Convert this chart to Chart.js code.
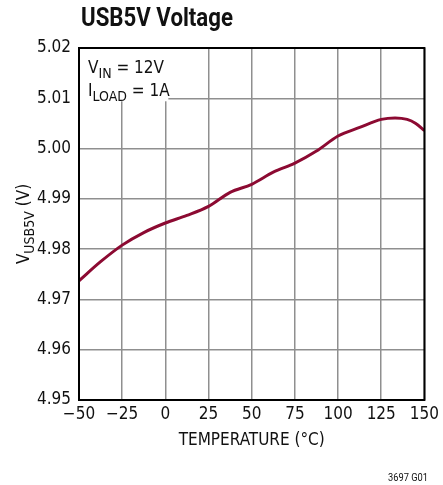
<!DOCTYPE html>
<html>
<head>
<meta charset="utf-8">
<script src="https://cdn.jsdelivr.net/npm/chart.js@4/dist/chart.umd.min.js"></script>
<style>
  html, body { margin: 0; padding: 0; background: #fff; }
  #wrap { position: relative; width: 443px; height: 485px; }
  #title { position: absolute; left: 81px; top: 3px; font: bold 25px Roboto, sans-serif; color: #111; transform-origin: 0 0; white-space: nowrap; }
  #code { position: absolute; left: 388px; top: 471px; font: 11px Roboto, sans-serif; color: #111; transform-origin: 0 0; white-space: nowrap; }
</style>
</head>
<body>
<div id="wrap">
  <canvas id="chart" width="443" height="485"></canvas>
  <div id="title">USB5V Voltage</div>
  <div id="code">3697 G01</div>
</div>
<script>
// USB5V output voltage vs temperature
const temps = [-50, -37.5, -25, -12.5, 0, 12.5, 25, 37.5, 50, 62.5, 75, 87.5, 100, 112.5, 125, 133, 140, 145, 150];
const volts = [4.9737, 4.9775, 4.9808, 4.9833, 4.9852, 4.9867, 4.9885, 4.9913, 4.9929, 4.9953, 4.9971, 4.9995, 5.0025, 5.0042, 5.0058, 5.0061, 5.0058, 5.0050, 5.0036];
const xTicks = [-50, -25, 0, 25, 50, 75, 100, 125, 150];
const yTicks = [4.95, 4.96, 4.97, 4.98, 4.99, 5.00, 5.01, 5.02];

const FONT = '"Liberation Sans Narrow", "DejaVu Sans Condensed", sans-serif';
const lineColor = '#8c0a32';

// squeeze the html labels to the reference widths (condensed face)
function squeeze(id, w) {
    const el = document.getElementById(id);
    el.style.transform = 'scaleX(' + (w / el.getBoundingClientRect().width) + ')';
}
squeeze('title', 152);
squeeze('code', 40);

// draw text with a subscript part
function subText(ctx, x, y, main, sub, rest, size) {
    ctx.font = size + 'px ' + FONT;
    ctx.fillText(main, x, y);
    x += ctx.measureText(main).width;
    ctx.font = Math.round(size * 0.8) + 'px ' + FONT;
    ctx.fillText(sub, x, y + size * 0.28);
    x += ctx.measureText(sub).width;
    ctx.font = size + 'px ' + FONT;
    ctx.fillText(rest, x, y);
}

const overlay = {
    id: 'overlay',
    afterDatasetsDraw(chart) {
        const ctx = chart.ctx;
        const a = chart.chartArea;
        const xs = chart.scales.x, ys = chart.scales.y;
        ctx.save();
        // condition box
        ctx.fillStyle = '#fff';
        ctx.fillRect(a.left + 1, a.top + 1, xs.getPixelForValue(0) + 2 - a.left, ys.getPixelForValue(5.01) + 2 - a.top);
        ctx.fillStyle = '#111';
        ctx.textBaseline = 'alphabetic';
        subText(ctx, a.left + 9, a.top + 25, 'V', 'IN', ' = 12V', 17);
        subText(ctx, a.left + 9, a.top + 48, 'I', 'LOAD', ' = 1A', 17);
        // frame
        ctx.strokeStyle = '#000';
        ctx.lineWidth = 2;
        ctx.strokeRect(a.left, a.top, a.right - a.left, a.bottom - a.top);
        // y axis title
        ctx.translate(23, (a.top + a.bottom) / 2);
        ctx.rotate(-Math.PI / 2);
        ctx.font = '17px ' + FONT;
        let w = ctx.measureText('V').width + ctx.measureText(' (V)').width;
        ctx.font = '14px ' + FONT;
        w += ctx.measureText('USB5V').width;
        subText(ctx, -w / 2, 6, 'V', 'USB5V', ' (V)', 17);
        ctx.restore();
    }
};

new Chart(document.getElementById('chart'), {
    type: 'line',
    data: {
        datasets: [{
            data: temps.map((t, i) => ({ x: t, y: volts[i] })),
            borderColor: lineColor,
            borderWidth: 3,
            pointRadius: 0,
            tension: 0.4,
            cubicInterpolationMode: 'monotone',
            fill: false
        }]
    },
    options: {
        responsive: false,
        animation: false,
        layout: { padding: { left: 0, right: 13, top: 48, bottom: 30 } },
        plugins: {
            legend: { display: false },
            tooltip: { enabled: false }
        },
        scales: {
            x: {
                type: 'linear',
                min: -50,
                max: 150,
                afterBuildTicks: s => { s.ticks = xTicks.map(v => ({ value: v })); },
                afterFit: s => { s.height = 55; },
                grid: { color: '#8f8f8f', lineWidth: 1.5, drawTicks: false },
                border: { display: false },
                ticks: {
                    color: '#111',
                    padding: 4,
                    maxRotation: 0,
                    font: { family: FONT, size: 17 },
                    callback: v => v < 0 ? '\u2212' + Math.abs(v) : String(v)
                },
                title: {
                    display: true,
                    text: 'TEMPERATURE (°C)',
                    color: '#111',
                    padding: { top: 3 },
                    font: { family: FONT, size: 17 }
                }
            },
            y: {
                type: 'linear',
                min: 4.95,
                max: 5.02,
                afterBuildTicks: s => { s.ticks = yTicks.map(v => ({ value: v })); },
                afterFit: s => { s.width = 79; },
                grid: { color: '#8f8f8f', lineWidth: 1.5, drawTicks: false },
                border: { display: false },
                ticks: {
                    color: '#111',
                    padding: 8,
                    font: { family: FONT, size: 17 },
                    callback: v => Number(v).toFixed(2)
                }
            }
        }
    },
    plugins: [overlay]
});
</script>
</body>
</html>
